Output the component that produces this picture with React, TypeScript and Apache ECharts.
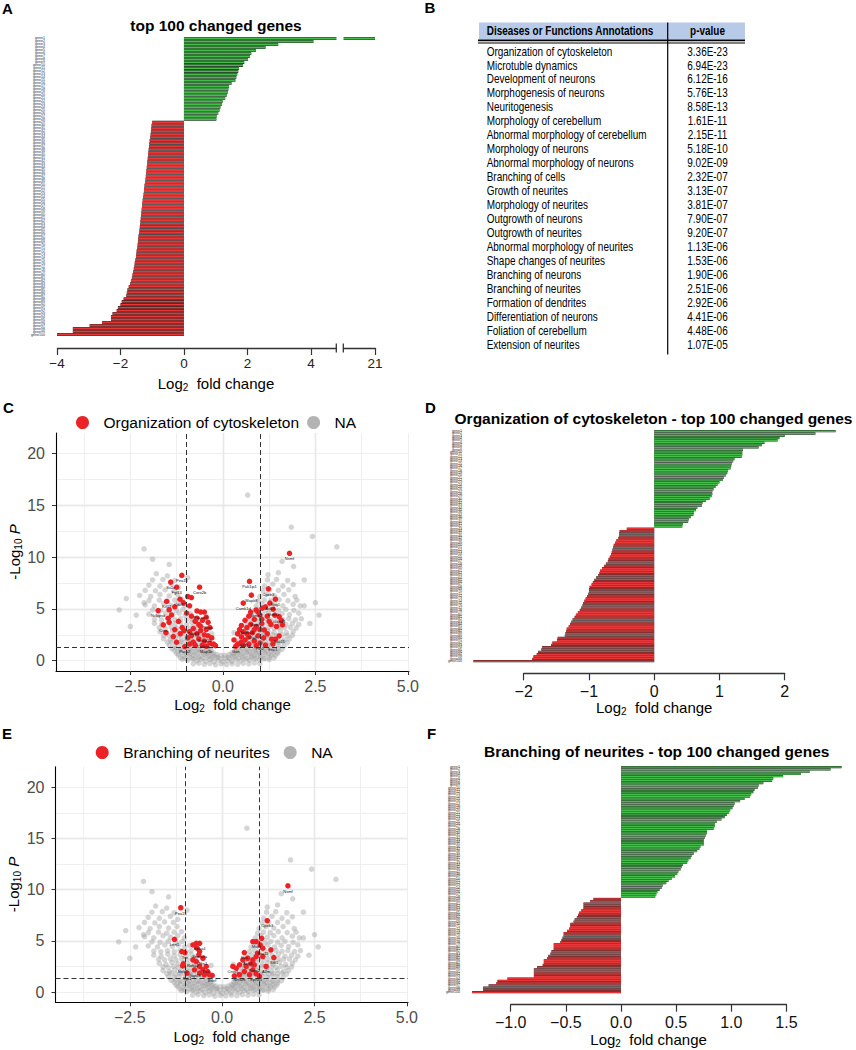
import React, { useEffect, useRef } from 'react';
import * as echarts from 'echarts';

const FONT = '"Liberation Sans", Arial, Helvetica, sans-serif';
const GREEN = '#45bd4b';
const RED = '#e63838';
const BAR_DARK = '#262626';
const PT_RED = '#ec2227';
const PT_GREY = '#9a9a9a';

// ---------- Panel A: top 100 changed genes ----------
const upA = [21, 4.08, 2.97, 2.57, 2.27, 2.12, 2.08, 2.02, 1.9, 1.86, 1.73, 1.71, 1.68, 1.65, 1.62, 1.5, 1.42, 1.4, 1.38, 1.35, 1.3, 1.22, 1.2, 1.15, 1.12, 1.08, 1.03, 1.02];
const downA = [-1.0, -1.02, -1.03, -1.04, -1.05, -1.06, -1.08, -1.09, -1.1, -1.11, -1.12, -1.13, -1.14, -1.15, -1.16, -1.17, -1.18, -1.19, -1.2, -1.21, -1.22, -1.24, -1.25, -1.26, -1.27, -1.29, -1.3, -1.31, -1.32, -1.33, -1.34, -1.35, -1.36, -1.37, -1.38, -1.39, -1.4, -1.41, -1.43, -1.44, -1.45, -1.46, -1.47, -1.49, -1.5, -1.51, -1.53, -1.55, -1.56, -1.58, -1.6, -1.62, -1.64, -1.67, -1.7, -1.74, -1.78, -1.8, -1.82, -1.9, -1.96, -2.0, -2.08, -2.12, -2.25, -2.3, -2.3, -2.58, -2.97, -3.5, -3.5, -4.0];
const xTicksA = [-4, -2, 0, 2, 4, 21];

// ---------- Panel B: table ----------
const annotations = ['Organization of cytoskeleton', 'Microtuble dynamics', 'Development of neurons', 'Morphogenesis of neurons', 'Neuritogenesis', 'Morphology of cerebellum', 'Abnormal morphology of cerebellum', 'Morphology of neurons', 'Abnormal morphology of neurons', 'Branching of cells', 'Growth of neurites', 'Morphology of neurites', 'Outgrowth of neurons', 'Outgrowth of neurites', 'Abnormal morphology of neurites', 'Shape changes of neurites', 'Branching of neurons', 'Branching of neurites', 'Formation of dendrites', 'Differentiation of neurons', 'Foliation of cerebellum', 'Extension of neurites'];
const pValues = ['3.36E-23', '6.94E-23', '6.12E-16', '5.76E-13', '8.58E-13', '1.61E-11', '2.15E-11', '5.18E-10', '9.02E-09', '2.32E-07', '3.13E-07', '3.81E-07', '7.90E-07', '9.20E-07', '1.13E-06', '1.53E-06', '1.90E-06', '2.51E-06', '2.92E-06', '4.41E-06', '4.48E-06', '1.07E-05'];

// ---------- Panel D: Organization of cytoskeleton - top 100 ----------
const upD = [2.78, 2.47, 2.0, 1.92, 1.89, 1.69, 1.65, 1.6, 1.36, 1.35, 1.35, 1.34, 1.23, 1.21, 1.19, 1.18, 1.17, 1.13, 1.12, 1.1, 1.07, 1.05, 1.0, 0.97, 0.94, 0.91, 0.89, 0.89, 0.88, 0.85, 0.79, 0.74, 0.73, 0.66, 0.64, 0.61, 0.6, 0.56, 0.53, 0.52, 0.44, 0.43];
const downD = [-0.42, -0.53, -0.54, -0.54, -0.55, -0.58, -0.6, -0.62, -0.63, -0.64, -0.65, -0.66, -0.68, -0.7, -0.71, -0.74, -0.77, -0.8, -0.83, -0.84, -0.86, -0.89, -0.92, -0.94, -0.96, -0.99, -1.0, -1.0, -1.01, -1.03, -1.05, -1.07, -1.09, -1.1, -1.12, -1.14, -1.17, -1.2, -1.22, -1.25, -1.27, -1.29, -1.31, -1.34, -1.35, -1.36, -1.37, -1.48, -1.49, -1.56, -1.58, -1.72, -1.73, -1.78, -1.8, -1.85, -1.87, -2.77];

// ---------- Panel F: Branching of neurites - top 100 ----------
const upF = [2.0, 1.9, 1.71, 1.63, 1.47, 1.38, 1.37, 1.29, 1.25, 1.24, 1.21, 1.2, 1.18, 1.17, 1.12, 1.08, 1.03, 1.02, 1.01, 0.99, 0.98, 0.96, 0.94, 0.91, 0.87, 0.85, 0.85, 0.84, 0.78, 0.78, 0.77, 0.76, 0.75, 0.75, 0.75, 0.72, 0.71, 0.69, 0.66, 0.64, 0.63, 0.61, 0.6, 0.56, 0.55, 0.54, 0.52, 0.51, 0.49, 0.46, 0.43, 0.41, 0.38, 0.37, 0.35, 0.33, 0.32, 0.31];
const downF = [-0.25, -0.28, -0.34, -0.34, -0.34, -0.36, -0.38, -0.39, -0.4, -0.42, -0.43, -0.46, -0.46, -0.47, -0.49, -0.52, -0.52, -0.53, -0.54, -0.55, -0.61, -0.61, -0.61, -0.63, -0.64, -0.66, -0.67, -0.7, -0.7, -0.71, -0.76, -0.79, -0.79, -0.79, -0.79, -1.03, -1.12, -1.13, -1.2, -1.25, -1.25, -1.35];

// ---------- Volcano plots (C, E): all genes (NA) ----------
const allGenes = [
  // dense core below the significance line
  [-0.8, -0.3], [-0.65, -0.25], [-0.5, -0.35], [-0.35, -0.28], [-0.2, -0.4], [-0.05, -0.32], [0.1, -0.38], [0.25, -0.3], [0.4, -0.35], [0.55, -0.26], [0.7, -0.3], [0.85, -0.22], [1.0, -0.28],
  [-1.1, 0.15], [-0.95, 0.05], [-0.82, 0.2], [-0.7, 0.0], [-0.58, 0.12], [-0.46, -0.05], [-0.35, 0.1], [-0.24, -0.1], [-0.12, 0.05], [0, -0.12], [0.12, 0.0], [0.24, -0.08], [0.36, 0.1], [0.48, 0.0], [0.6, 0.15], [0.72, 0.05], [0.85, 0.2], [0.98, 0.08], [1.1, 0.18], [1.25, 0.1],
  [-1.15, 0.3], [-1.02, 0.22], [-0.9, 0.32], [-0.78, 0.2], [-0.66, 0.3], [-0.54, 0.24], [-0.42, 0.34], [-0.3, 0.22], [-0.18, 0.3], [-0.06, 0.2], [0.06, 0.26], [0.18, 0.2], [0.3, 0.32], [0.42, 0.24], [0.54, 0.3], [0.66, 0.22], [0.78, 0.34], [0.9, 0.25], [1.02, 0.32], [1.14, 0.22], [1.26, 0.3], [1.38, 0.25],
  [-1.2, 0.55], [-1.05, 0.45], [-0.9, 0.6], [-0.78, 0.5], [-0.65, 0.45], [-0.52, 0.6], [-0.4, 0.5], [-0.28, 0.42], [-0.15, 0.35], [0.15, 0.35], [0.28, 0.45], [0.4, 0.55], [0.52, 0.5], [0.65, 0.6], [0.78, 0.48], [0.9, 0.58], [1.02, 0.5], [1.15, 0.62], [1.3, 0.55], [1.42, 0.5],
  [-1.25, 0.7], [-1.12, 0.78], [-1.0, 0.66], [-0.88, 0.74], [-0.76, 0.7], [-0.64, 0.8], [-0.52, 0.68], [-0.4, 0.76], [-0.28, 0.64], [-0.16, 0.58], [-0.05, 0.52], [0.05, 0.5], [0.16, 0.6], [0.28, 0.66], [0.4, 0.74], [0.52, 0.7], [0.64, 0.78], [0.76, 0.68], [0.88, 0.76], [1.0, 0.7], [1.12, 0.78], [1.24, 0.66], [1.36, 0.74], [1.48, 0.7],
  [-1.3, 0.95], [-1.15, 1.0], [-1.0, 0.9], [-0.88, 1.05], [-0.75, 0.92], [-0.62, 1.0], [-0.5, 0.9], [-0.38, 0.85], [-0.25, 0.75], [0.25, 0.75], [0.36, 0.9], [0.48, 0.95], [0.6, 1.05], [0.72, 0.9], [0.85, 1.0], [0.98, 0.92], [1.1, 1.05], [1.22, 0.95], [1.36, 1.0], [1.5, 0.9],
  [-1.38, 1.15], [-1.26, 1.2], [-1.14, 1.1], [-1.02, 1.22], [-0.9, 1.12], [-0.78, 1.2], [-0.66, 1.1], [-0.54, 1.18], [-0.42, 1.08], [-0.32, 1.0], [0.32, 1.0], [0.42, 1.1], [0.54, 1.2], [0.66, 1.1], [0.78, 1.18], [0.9, 1.1], [1.02, 1.2], [1.14, 1.12], [1.26, 1.2], [1.38, 1.1], [1.5, 1.18], [1.6, 1.1],
  // two arms of the volcano
  [-1.45, 1.5], [-1.3, 1.45], [-1.15, 1.55], [-0.98, 1.45], [-0.85, 1.6], [-0.72, 1.4], [-0.58, 1.5], [-0.45, 1.35], [-0.33, 1.3], [0.33, 1.3], [0.45, 1.4], [0.58, 1.55], [0.7, 1.45], [0.82, 1.6], [0.95, 1.4], [1.08, 1.55], [1.22, 1.45], [1.36, 1.6], [1.5, 1.5], [1.65, 1.4],
  [-1.5, 1.8], [-1.38, 1.85], [-1.26, 1.75], [-1.14, 1.82], [-1.02, 1.78], [-0.9, 1.85], [-0.78, 1.75], [-0.66, 1.8], [-0.54, 1.7], [-0.42, 1.65], [0.42, 1.65], [0.54, 1.72], [0.66, 1.8], [0.78, 1.75], [0.9, 1.85], [1.02, 1.78], [1.14, 1.84], [1.26, 1.76], [1.38, 1.82], [1.5, 1.78], [1.62, 1.85], [1.74, 1.75],
  [-1.6, 2.1], [-1.42, 2.0], [-1.28, 2.2], [-1.12, 2.05], [-0.98, 2.15], [-0.84, 2.0], [-0.7, 2.2], [-0.56, 2.0], [-0.45, 1.9], [0.42, 1.9], [0.55, 2.05], [0.68, 2.2], [0.8, 2.0], [0.93, 2.15], [1.06, 2.0], [1.2, 2.2], [1.34, 2.05], [1.5, 2.15], [1.66, 2.0], [1.8, 2.1],
  [-1.6, 2.45], [-1.46, 2.4], [-1.32, 2.5], [-1.18, 2.42], [-1.04, 2.5], [-0.9, 2.4], [-0.78, 2.5], [-0.66, 2.4], [-0.55, 2.35], [0.5, 2.35], [0.62, 2.45], [0.74, 2.4], [0.86, 2.5], [0.98, 2.42], [1.1, 2.5], [1.22, 2.4], [1.34, 2.48], [1.46, 2.42], [1.6, 2.5], [1.74, 2.42], [1.88, 2.45],
  [-1.7, 2.8], [-1.52, 2.7], [-1.36, 2.9], [-1.2, 2.75], [-1.05, 2.85], [-0.9, 2.7], [-0.76, 2.9], [-0.62, 2.7], [0.55, 2.7], [0.68, 2.85], [0.8, 2.75], [0.94, 2.9], [1.08, 2.7], [1.22, 2.85], [1.38, 2.75], [1.55, 2.9], [1.72, 2.7], [1.9, 2.8],
  [-1.72, 3.2], [-1.56, 3.15], [-1.4, 3.25], [-1.25, 3.15], [-1.1, 3.22], [-0.95, 3.15], [-0.82, 3.25], [-0.7, 3.1], [0.62, 3.1], [0.74, 3.2], [0.86, 3.15], [0.98, 3.25], [1.1, 3.15], [1.24, 3.22], [1.38, 3.15], [1.52, 3.25], [1.66, 3.18], [1.82, 3.22], [1.98, 3.15],
  [-1.85, 3.6], [-1.65, 3.5], [-1.47, 3.7], [-1.3, 3.55], [-1.14, 3.65], [-0.98, 3.5], [-0.84, 3.7], [-0.72, 3.45], [0.65, 3.45], [0.78, 3.6], [0.92, 3.7], [1.06, 3.5], [1.2, 3.65], [1.36, 3.55], [1.52, 3.7], [1.7, 3.5], [1.88, 3.6], [2.05, 3.5],
  [-1.85, 4.0], [-1.66, 3.95], [-1.48, 4.05], [-1.3, 3.95], [-1.14, 4.05], [-0.98, 3.98], [-0.84, 4.05], [0.74, 3.95], [0.88, 4.05], [1.02, 3.98], [1.16, 4.05], [1.3, 3.95], [1.46, 4.05], [1.62, 3.98], [1.78, 4.05], [1.96, 3.95], [2.12, 4.05],
  [-2.0, 4.5], [-1.75, 4.4], [-1.55, 4.6], [-1.35, 4.45], [-1.18, 4.6], [-1.02, 4.4], [-0.88, 4.55], [0.78, 4.4], [0.92, 4.6], [1.08, 4.45], [1.24, 4.6], [1.42, 4.4], [1.6, 4.55], [1.8, 4.45], [2.05, 4.6],
  [-1.9, 4.9], [-1.68, 4.85], [-1.46, 4.95], [-1.26, 4.85], [-1.08, 4.95], [0.86, 4.85], [1.0, 4.95], [1.16, 4.85], [1.32, 4.95], [1.5, 4.88], [1.7, 4.95], [1.92, 4.85],
  [-2.1, 5.4], [-1.85, 5.3], [-1.6, 5.5], [-1.4, 5.35], [-1.2, 5.5], [-1.02, 5.3], [0.9, 5.3], [1.05, 5.5], [1.22, 5.35], [1.4, 5.5], [1.62, 5.3], [1.9, 5.45], [2.2, 5.3],
  [-2.0, 5.8], [-1.72, 5.85], [-1.5, 5.75], [-1.3, 5.85], [-1.1, 5.9], [0.96, 5.75], [1.12, 5.85], [1.3, 5.8], [1.52, 5.9], [1.76, 5.8], [2.0, 5.85],
  [-2.25, 6.3], [-1.95, 6.2], [-1.7, 6.4], [-1.45, 6.25], [-1.22, 6.4], [1.0, 6.2], [1.18, 6.4], [1.4, 6.25], [1.65, 6.4], [1.95, 6.2],
  [-2.1, 6.8], [-1.82, 6.75], [-1.56, 6.85], [-1.32, 6.8], [1.08, 6.75], [1.26, 6.85], [1.5, 6.8], [1.78, 6.85],
  [-2.0, 7.3], [-1.7, 7.2], [-1.4, 7.4], [-1.2, 7.1], [1.12, 7.2], [1.35, 7.4], [1.62, 7.2], [1.9, 7.35],
  [-1.9, 7.8], [-1.62, 7.85], [-1.3, 7.75], [1.2, 7.8], [1.45, 7.85], [1.75, 7.75],
  [-1.8, 8.4], [-1.5, 8.2], [-0.95, 8.0], [1.22, 8.3], [1.5, 8.5],
  // scattered outliers
  [0.67, 16.0], [1.85, 12.9], [2.42, 12.0], [3.08, 11.0], [-2.13, 10.8], [-1.9, 9.8], [1.91, 9.1], [-2.61, 6.0], [-2.13, 5.6], [-2.34, 4.4], [2.5, 5.6], [2.09, 5.3], [-2.5, 3.3], [2.35, 3.6], [2.6, 4.4], [-2.8, 4.9], [-0.3, 2.6], [0.3, 2.7], [1.6, 9.6], [-1.45, 9.3], [2.2, 7.8]
];

// Genes annotated "Organization of cytoskeleton" (panel C)
const cytoGenes = [
  [1.8, 10.37, 'Nsmf'], [-1.11, 8.24, 'Pea15'], [-1.41, 7.59, 'Sv2c'], [-1.25, 7.1, 'Fgf13'], [-0.63, 7.1, 'Coro2b'], [0.72, 7.66, 'Pak1ip1'], [1.23, 6.94, 'Cpeb3'], [0.77, 6.33, 'Mapk8'], [1.42, 5.94, 'Nsg1'], [-1.52, 5.72, 'Kif17'], [-1.75, 4.84, 'Nckipsd'], [0.55, 5.56, 'Camk1d'],
  [-0.95, 6.2], [-1.16, 5.94, 'Cdc42'], [-0.85, 6.1], [-1.07, 5.6], [-0.9, 5.3], [-1.3, 5.2], [-1.45, 4.9], [-1.39, 4.42], [-1.48, 4.1], [-1.61, 3.46, 'Ctss'], [-1.54, 2.71], [-1.34, 2.33], [-1.25, 1.78], [-1.03, 1.36, 'Pacs2'], [-1.2, 3.8], [-1.1, 3.2], [-1.3, 3.0], [-1.15, 2.6], [-1.45, 3.7], [-0.98, 4.6], [-0.85, 4.3], [-0.7, 4.8], [-0.6, 4.7, 'Pacsin1'], [-0.5, 4.7], [-0.45, 4.2], [-0.4, 3.7, 'Rhoa'], [-0.35, 3.2], [-0.55, 3.9], [-0.65, 3.5], [-0.75, 3.8], [-0.8, 3.1, 'Tubb3'], [-0.9, 2.8], [-0.7, 2.6], [-0.6, 2.9], [-0.5, 2.5, 'Snap25'], [-0.4, 2.4], [-0.3, 2.2], [-0.35, 1.7], [-0.25, 1.6], [-0.5, 1.9, 'Cntnap2'], [-0.65, 2.1], [-0.8, 1.8], [-0.95, 2.2], [-0.55, 1.5], [-0.45, 1.4, 'Map1b'], [-0.75, 1.5], [-0.9, 1.6], [-1.05, 2.9], [-0.2, 1.45], [-0.6, 3.3], [-0.45, 3.0], [-0.7, 4.1], [-0.85, 2.4],
  [1.27, 5.56, 'Ank3'], [1.36, 4.97, 'Stmn1'], [1.06, 5.07], [0.9, 4.9, 'Stmn2'], [0.95, 4.7], [1.15, 5.2], [1.52, 4.26, 'Gap43'], [1.61, 3.46], [1.52, 2.39, 'Sox11'], [1.32, 2.07], [1.42, 2.07], [1.12, 2.97], [1.25, 3.8], [1.4, 4.4], [1.2, 4.3], [1.05, 4.0], [0.85, 4.0, 'Mapt'], [0.7, 4.3], [0.6, 3.9], [0.5, 3.4], [0.45, 3.0], [0.4, 2.6], [0.55, 2.8], [0.65, 3.2, 'Sema4f'], [0.75, 3.5], [0.9, 3.3], [1.0, 3.0], [0.8, 2.7, 'Dlg3'], [0.95, 2.4], [1.1, 2.2], [0.7, 2.3], [0.6, 2.0, 'Kif21a'], [0.5, 1.8], [0.4, 1.6], [0.35, 1.4, 'Gsn'], [0.55, 1.5], [0.7, 1.6], [0.85, 1.9], [1.0, 1.7, 'Pfn2'], [1.15, 1.5], [0.9, 1.45], [0.3, 2.0], [1.45, 3.3], [1.58, 3.9], [1.3, 3.5], [1.05, 3.6], [0.85, 3.0], [0.65, 2.6], [0.75, 4.7], [1.0, 4.4], [0.5, 2.3], [1.2, 2.6], [1.35, 1.6, 'Enc1']
];

// Genes annotated "Branching of neurites" (panel E)
const branchGenes = [
  [1.78, 10.37, 'Nsmf'], [-1.12, 8.23, 'Pea15'], [1.22, 6.97, 'Cpeb3'], [-1.29, 5.15, 'Lrrn1'], [-1.09, 3.95], [-1.01, 3.86, 'Tnr'], [-1.05, 2.76], [-1.07, 2.55, 'Ntrk2'], [-0.95, 1.85, 'Sgk1'], [-0.79, 4.6], [-0.7, 4.76], [-0.61, 4.76, 'Epha4'], [-0.68, 4.28], [-0.61, 3.95, 'Sema3a'], [-0.63, 3.63], [-0.52, 3.3, 'Ntn1'], [-0.79, 3.14, 'Robo2'], [-0.7, 2.98], [-0.61, 2.5], [-0.52, 2.17], [-0.43, 2.5, 'Dcc'], [-0.39, 2.0], [-0.34, 1.69], [-0.27, 1.62, 'Bdnf'], [-0.48, 1.69], [-0.61, 1.85], [-0.75, 2.17, 'Gap43'],
  [1.07, 5.25], [0.92, 4.93, 'Mapt'], [0.83, 4.93], [1.03, 4.6], [1.1, 4.28, 'Sox11'], [0.6, 3.86, 'Dcx'], [1.32, 4.12], [1.4, 3.37, 'Sdf1'], [1.19, 2.5, 'A2m'], [0.92, 3.47], [0.83, 3.14], [0.69, 3.3, 'Ank3'], [0.56, 3.14], [0.47, 2.66], [0.29, 2.5, 'Cntn1'], [0.38, 2.33], [0.65, 2.5], [0.78, 2.76], [0.87, 2.66, 'Stmn2'], [0.6, 2.0], [0.47, 1.69, 'Nrcam'], [0.33, 1.59], [0.74, 1.69], [0.92, 1.78, 'Epha5'], [1.01, 1.52], [0.83, 2.17], [1.1, 3.47], [0.96, 3.79]
];

const volcanoXTicks = [-2.5, 0, 2.5, 5];
const volcanoYTicks = [0, 5, 10, 15, 20];
const pCutoff = 1.301;
const fcCutoff = [-1, 1];

// ---------- helpers ----------
const minus = (s: string) => s.replace('-', '\u2212');
const geneNames = (prefix: string, n: number) => Array.from({ length: n }, (_, i) => prefix + (i + 1));

const barData = (up: number[], down: number[]) => [
  ...up.map((v) => ({ value: v, itemStyle: { color: GREEN } })),
  ...down.map((v) => ({ value: v, itemStyle: { color: RED } })),
];

const xNameRich = {
  t: { fontSize: 15, lineHeight: 18, color: '#000', fontFamily: FONT },
  s: { fontSize: 10, lineHeight: 8, verticalAlign: 'bottom', color: '#000', fontFamily: FONT },
};
const X_NAME = '{t|Log}{s|2}{t|  fold change}';
const yNameRich = {
  t: { fontSize: 15, lineHeight: 18, color: '#000', fontFamily: FONT },
  s: { fontSize: 10, lineHeight: 8, verticalAlign: 'bottom', color: '#000', fontFamily: FONT },
  i: { fontSize: 15, lineHeight: 18, fontStyle: 'italic', color: '#000', fontFamily: FONT },
};
const Y_NAME = '{t|-Log}{s|10}{t| }{i|P}';

const catAxis = (gridIndex: number, names: string[], margin: number) => ({
  type: 'category', gridIndex, data: names, inverse: true,
  axisLine: { show: false, onZero: false }, axisTick: { show: false }, splitLine: { show: false },
  axisLabel: { show: true, interval: 0, fontSize: 3.6, color: '#2e2e2e', margin, fontFamily: FONT },
});
const hiddenCatAxis = (gridIndex: number, names: string[]) => ({
  type: 'category', gridIndex, data: names, inverse: true, show: false,
  axisLine: { show: false, onZero: false },
});

const baseAxisStyle = {
  axisLine: { show: true, onZero: false, lineStyle: { color: '#333', width: 1.3 } },
  axisTick: { show: true, length: 7, lineStyle: { color: '#333', width: 1.2 } },
  splitLine: { show: false },
};

const majorGrid = { color: '#dcdcdc', width: 1.4 };
const minorGrid = { color: '#ebebeb', width: 0.8 };

const volcanoX = (gridIndex: number, nameGap: number) => [
  {
    type: 'value', gridIndex, min: -4.51, max: 5.03, minInterval: 2.5, maxInterval: 2.5,
    axisLine: { show: true, onZero: false, lineStyle: { color: '#000', width: 1.1 } },
    axisTick: { show: true, customValues: volcanoXTicks, length: 4, lineStyle: { color: '#333' } },
    axisLabel: { customValues: volcanoXTicks, fontSize: 16, color: '#4d4d4d', margin: 7, fontFamily: FONT, formatter: (v: number) => minus(v.toFixed(1)) },
    splitLine: { show: true, showMinLine: false, showMaxLine: false, lineStyle: majorGrid },
    name: X_NAME, nameLocation: 'middle', nameGap, nameTextStyle: { rich: xNameRich },
  },
  {
    type: 'value', gridIndex, min: -4.51, max: 5.03, minInterval: 1.25, maxInterval: 1.25,
    axisLine: { show: false }, axisTick: { show: false }, axisLabel: { show: false },
    splitLine: { show: true, showMinLine: false, showMaxLine: false, lineStyle: minorGrid },
  },
];
const volcanoY = (gridIndex: number) => [
  {
    type: 'value', gridIndex, min: -1, max: 22, minInterval: 5, maxInterval: 5,
    axisLine: { show: true, onZero: false, lineStyle: { color: '#000', width: 1.1 } },
    axisTick: { show: true, customValues: volcanoYTicks, length: 4, lineStyle: { color: '#333' } },
    axisLabel: { customValues: volcanoYTicks, fontSize: 16, color: '#4d4d4d', margin: 11, fontFamily: FONT },
    splitLine: { show: true, showMinLine: false, showMaxLine: false, lineStyle: majorGrid },
    name: Y_NAME, nameLocation: 'middle', nameGap: 33, nameRotate: 90, nameTextStyle: { rich: yNameRich },
  },
  {
    type: 'value', gridIndex, min: -1, max: 22, minInterval: 2.5, maxInterval: 2.5,
    axisLine: { show: false }, axisTick: { show: false }, axisLabel: { show: false },
    splitLine: { show: true, showMinLine: false, showMaxLine: false, lineStyle: minorGrid },
  },
];

const volcanoSeries = (xi: number, yi: number, redName: string, redData: any[]) => [
  {
    type: 'scatter', name: 'NA', xAxisIndex: xi, yAxisIndex: yi, data: allGenes, symbolSize: 5.5,
    itemStyle: { color: PT_GREY, opacity: 0.42 }, silent: true, z: 2,
  },
  {
    type: 'scatter', name: redName, xAxisIndex: xi, yAxisIndex: yi, data: redData, symbolSize: 5.5,
    itemStyle: { color: PT_RED, opacity: 1 }, z: 3,
    label: { show: true, position: 'bottom', distance: 0.5, fontSize: 4, color: '#111', fontFamily: FONT, formatter: (p: any) => (p.data && p.data[2]) || '' },
    labelLayout: { hideOverlap: false },
    markLine: {
      silent: true, symbol: 'none', label: { show: false }, animation: false,
      lineStyle: { type: [5, 3], color: '#333', width: 1 },
      data: [{ xAxis: fcCutoff[0] }, { xAxis: fcCutoff[1] }, { yAxis: pCutoff }],
    },
  },
];

// Dark full-band bars underneath give the black separators; coloured bars on a twin category axis sit on top.
const barSeries = (xi: number, yiDark: number, yiColor: number, up: number[], down: number[]) => [
  {
    type: 'bar', xAxisIndex: xi, yAxisIndex: yiDark, data: [...up, ...down], barCategoryGap: '0%',
    itemStyle: { color: BAR_DARK }, silent: true, z: 2,
  },
  {
    type: 'bar', xAxisIndex: xi, yAxisIndex: yiColor, data: barData(up, down), barWidth: '64%',
    silent: true, z: 3,
  },
];

// ---------- graphic texts ----------
const label = (text: string, x: number, y: number, size: number, weight = 'bold', align = 'left', extra: any = {}) => ({
  type: 'text', x, y, silent: true, ...extra,
  style: { text, fontSize: size, fontWeight: weight, fontFamily: FONT, fill: '#000', align, textAlign: align, verticalAlign: 'middle', textVerticalAlign: 'middle' },
});

const tableGraphic = () => {
  const els: any[] = [
    { type: 'rect', silent: true, shape: { x: 479, y: 22.5, width: 266, height: 17 }, style: { fill: '#b7cbe8' } },
    label('Diseases or Functions Annotations', 486.7, 30.9, 12, 'bold', 'left', { scaleX: 0.83 }),
    label('p-value', 707.5, 30.9, 12, 'bold', 'center', { scaleX: 0.83 }),
    { type: 'line', silent: true, shape: { x1: 478, y1: 40.4, x2: 745, y2: 40.4 }, style: { stroke: '#000', lineWidth: 1.8 } },
    { type: 'line', silent: true, shape: { x1: 478, y1: 43, x2: 745, y2: 43 }, style: { stroke: '#000', lineWidth: 1 } },
    { type: 'line', silent: true, shape: { x1: 667.7, y1: 22.5, x2: 667.7, y2: 354.5 }, style: { stroke: '#000', lineWidth: 1.2 } },
  ];
  annotations.forEach((a, i) => {
    els.push(label(a, 486.7, 51.2 + i * 13.95, 12, 'normal', 'left', { scaleX: 0.83 }));
    els.push(label(pValues[i], 707.5, 51.2 + i * 13.95, 12, 'normal', 'center', { scaleX: 0.83 }));
  });
  return els;
};

// axis break caps on panel A's x axis
const breakCaps = [336.3, 343.3].map((x) => ({
  type: 'line', silent: true, z: 100, shape: { x1: x, y1: 343.5, x2: x, y2: 352.5 }, style: { stroke: '#333', lineWidth: 1.3 },
}));

export default function App() {
  const ref = useRef<HTMLDivElement>(null);
  useEffect(() => {
    if (!ref.current) return;
    const chart = echarts.init(ref.current, null, { renderer: 'svg', width: 856, height: 1050 });
    const legendText = { fontSize: 15.5, color: '#000', fontFamily: FONT };
    const namesA = geneNames('gene', upA.length + downA.length);
    const namesD = geneNames('gene', upD.length + downD.length);
    const namesF = geneNames('gene', upF.length + downF.length);
    const option: any = {
      animation: false,
      backgroundColor: '#fff',
      textStyle: { fontFamily: FONT },
      grid: [
        { left: 57, top: 37, width: 318, height: 299 },
        { left: 56, top: 433, width: 353, height: 238 },
        { left: 471.5, top: 430, width: 365.4, height: 232.3 },
        { left: 523.7, top: 430, width: 261, height: 232.3 },
        { left: 55.5, top: 766.7, width: 352.5, height: 235.6 },
        { left: 466.6, top: 766, width: 375, height: 227.3 },
        { left: 510.7, top: 766, width: 275.75, height: 227.3 },
      ],
      legend: [
        {
          data: [{ name: 'Organization of cytoskeleton', itemStyle: { color: PT_RED, opacity: 1 } }, { name: 'NA', itemStyle: { color: '#b3b3b3', opacity: 1 } }],
          left: 76, top: 414.5, icon: 'circle', itemWidth: 32, itemHeight: 13, itemGap: 8, padding: 0, selectedMode: false,
          textStyle: legendText,
        },
        {
          data: [{ name: 'Branching of neurites', itemStyle: { color: PT_RED, opacity: 1 } }, { name: 'NA', itemStyle: { color: '#b3b3b3', opacity: 1 } }],
          left: 95.7, top: 744.5, icon: 'circle', itemWidth: 32, itemHeight: 13, itemGap: 14, padding: 0, selectedMode: false,
          textStyle: legendText,
        },
      ],
      xAxis: [
        {
          type: 'value', gridIndex: 0, min: -4, max: 21, offset: 12,
          breaks: [{ start: 4.8, end: 20, gap: '2.2%' }],
          breakArea: { show: true, itemStyle: { color: '#fff', borderColor: '#fff', borderWidth: 0, opacity: 1 }, zigzagAmplitude: 0, expandOnClick: false },
          ...baseAxisStyle,
          axisTick: { ...baseAxisStyle.axisTick, customValues: xTicksA },
          axisLabel: { customValues: xTicksA, fontSize: 13.5, color: '#222', margin: 8, fontFamily: FONT, formatter: (v: number) => minus(String(v)) },
          name: X_NAME, nameLocation: 'middle', nameGap: 26, nameTextStyle: { rich: xNameRich },
        },
        ...volcanoX(1, 24),
        { type: 'value', gridIndex: 2, min: -2.8, max: 2.8, show: false },
        {
          type: 'value', gridIndex: 3, min: -2, max: 2, interval: 1, offset: 11, ...baseAxisStyle,
          axisLabel: { fontSize: 16, color: '#111', margin: 10, fontFamily: FONT, formatter: (v: number) => minus(String(v)) },
          name: X_NAME, nameLocation: 'middle', nameGap: 25, nameTextStyle: { rich: xNameRich },
        },
        ...volcanoX(4, 25),
        { type: 'value', gridIndex: 5, min: -1.4, max: 2.0, show: false },
        {
          type: 'value', gridIndex: 6, min: -1, max: 1.5, interval: 0.5, offset: 11.4, ...baseAxisStyle,
          axisLabel: { fontSize: 16, color: '#111', margin: 10, fontFamily: FONT, formatter: (v: number) => minus(v.toFixed(1)) },
          name: X_NAME, nameLocation: 'middle', nameGap: 25, nameTextStyle: { rich: xNameRich },
        },
      ],
      yAxis: [
        catAxis(0, namesA, 12),
        ...volcanoY(1),
        catAxis(2, namesD, 9.5),
        { type: 'value', gridIndex: 3, show: false, min: 0, max: 1 },
        ...volcanoY(4),
        catAxis(5, namesF, 6.5),
        { type: 'value', gridIndex: 6, show: false, min: 0, max: 1 },
        hiddenCatAxis(0, namesA),
        hiddenCatAxis(2, namesD),
        hiddenCatAxis(5, namesF),
      ],
      series: [
        ...barSeries(0, 0, 9, upA, downA),
        ...volcanoSeries(1, 1, 'Organization of cytoskeleton', cytoGenes),
        ...barSeries(3, 3, 10, upD, downD),
        ...volcanoSeries(5, 5, 'Branching of neurites', branchGenes),
        ...barSeries(7, 7, 11, upF, downF),
      ],
      graphic: [
        label('A', 2, 8, 15),
        label('B', 424.5, 7.5, 15),
        label('C', 3, 407.5, 15),
        label('D', 425, 407.5, 15),
        label('E', 2, 733, 15),
        label('F', 427, 733.5, 15),
        label('top 100 changed genes', 216, 25, 15.5, 'bold', 'center'),
        label('Organization of cytoskeleton - top 100 changed genes', 653.5, 418, 15.5, 'bold', 'center'),
        label('Branching of neurites - top 100 changed genes', 656.7, 751.7, 15.5, 'bold', 'center'),
        ...breakCaps,
        ...tableGraphic(),
      ],
    };
    chart.setOption(option);
    return () => chart.dispose();
  }, []);
  return <div ref={ref} style={{ position: 'absolute', left: 0, top: 0, width: 856, height: 1050, background: '#fff' }} />;
}
